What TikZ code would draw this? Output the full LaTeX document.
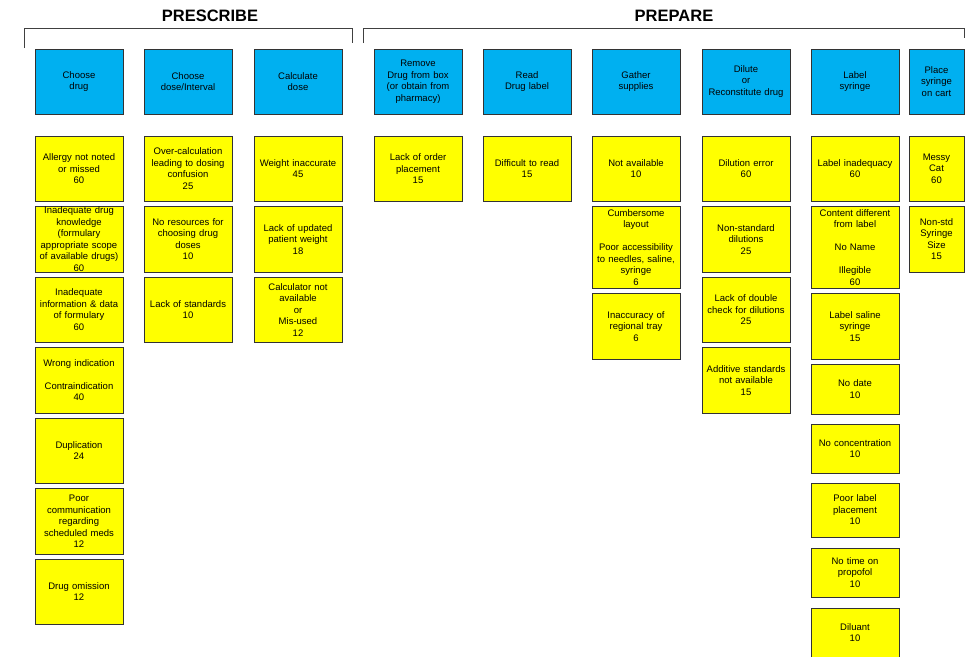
\documentclass[tikz,border=0pt]{standalone}
\usepackage{fontspec}
\setmainfont{Liberation Sans}
\usetikzlibrary{positioning}
\definecolor{stageblue}{HTML}{00B0F0}
\definecolor{causeyellow}{HTML}{FFFF00}
\tikzset{
  box/.style={draw=black!80,line width=1pt,outer sep=0pt,inner sep=0pt,align=center,
    text width=88pt,font=\fontsize{9.5}{11.5}\selectfont},
  stage/.style={box,fill=stageblue,minimum height=65pt},
  cause/.style={box,fill=causeyellow,minimum height=65.5pt},
  phase/.style={font=\fontsize{16.5}{18}\selectfont\bfseries},
  bracket/.style={draw=black!75,line width=0.9pt}
}
\begin{document}
\begin{tikzpicture}[x=1pt,y=1pt]
  \useasboundingbox (0,0) rectangle (976,-656);
  % phase headings and brackets
  \node[phase] (prescribe) at (210,-16) {PRESCRIBE};
  \node[phase] (prepare) at (674,-16) {PREPARE};
  \draw[bracket] (24,-48) -- (24,-28) -- (352,-28) -- (352,-43);
  \draw[bracket] (363,-43) -- (363,-28) -- (964,-28) -- (964,-38);
  % process steps
  \node[stage,anchor=north west] (drug) at (35,-49) {Choose\\drug};
  \node[stage,right=21pt of drug] (dose) {Choose\\dose/Interval};
  \node[stage,right=22pt of dose] (calc) {Calculate\\dose};
  \node[stage,right=32pt of calc] (remove) {Remove\\Drug from box\\(or obtain from\\pharmacy)};
  \node[stage,right=21pt of remove] (read) {Read\\Drug label};
  \node[stage,right=21pt of read] (gather) {Gather\\supplies};
  \node[stage,right=22pt of gather] (dilute) {Dilute\\or\\Reconstitute drug};
  \node[stage,right=21pt of dilute] (label) {Label\\syringe};
  \node[stage,right=10pt of label,text width=55pt] (place) {Place\\syringe\\on cart};
  % failure modes under each step
  \node[cause,below=22pt of drug] (drug1) {Allergy not noted\\or missed\\60};
  \node[cause,below=5pt of drug1] (drug2) {Inadequate drug\\knowledge\\(formulary\\appropriate scope\\of available drugs)\\60};
  \node[cause,below=5pt of drug2] (drug3) {Inadequate\\information \& data\\of formulary\\60};
  \node[cause,below=5pt of drug3] (drug4) {Wrong indication\\[11.5pt]Contraindication\\40};
  \node[cause,below=5pt of drug4] (drug5) {Duplication\\24};
  \node[cause,below=5pt of drug5] (drug6) {Poor\\communication\\regarding\\scheduled meds\\12};
  \node[cause,below=5pt of drug6] (drug7) {Drug omission\\12};
  \node[cause,below=22pt of dose] (dose1) {Over-calculation\\leading to dosing\\confusion\\25};
  \node[cause,below=5pt of dose1] (dose2) {No resources for\\choosing drug\\doses\\10};
  \node[cause,below=5pt of dose2] (dose3) {Lack of standards\\10};
  \node[cause,below=22pt of calc] (calc1) {Weight inaccurate\\45};
  \node[cause,below=5pt of calc1] (calc2) {Lack of updated\\patient weight\\18};
  \node[cause,below=5pt of calc2] (calc3) {Calculator not\\available\\or\\Mis-used\\12};
  \node[cause,below=22pt of remove] (remove1) {Lack of order\\placement\\15};
  \node[cause,below=22pt of read] (read1) {Difficult to read\\15};
  \node[cause,below=22pt of gather] (gather1) {Not available\\10};
  \node[cause,below=5pt of gather1,minimum height=82pt] (gather2) {Cumbersome\\layout\\[11.5pt]Poor accessibility\\to needles, saline,\\syringe\\6};
  \node[cause,below=5pt of gather2] (gather3) {Inaccuracy of\\regional tray\\6};
  \node[cause,below=22pt of dilute] (dilute1) {Dilution error\\60};
  \node[cause,below=5pt of dilute1] (dilute2) {Non-standard\\dilutions\\25};
  \node[cause,below=5pt of dilute2] (dilute3) {Lack of double\\check for dilutions\\25};
  \node[cause,below=5pt of dilute3] (dilute4) {Additive standards\\not available\\15};
  \node[cause,below=22pt of label] (label1) {Label inadequacy\\60};
  \node[cause,below=5pt of label1,minimum height=82pt] (label2) {Content different\\from label\\[11.5pt]No Name\\[11.5pt]Illegible\\60};
  \node[cause,below=5pt of label2] (label3) {Label saline\\syringe\\15};
  \node[cause,below=5pt of label3,minimum height=50pt] (label4) {No date\\10};
  \node[cause,below=10pt of label4,minimum height=49pt] (label5) {No concentration\\10};
  \node[cause,below=10pt of label5,minimum height=54pt] (label6) {Poor label\\placement\\10};
  \node[cause,below=11pt of label6,minimum height=49pt] (label7) {No time on\\propofol\\10};
  \node[cause,below=11pt of label7,minimum height=49pt] (label8) {Diluant\\10};
  \node[cause,below=22pt of place,text width=55pt] (place1) {Messy\\Cat\\60};
  \node[cause,below=5pt of place1,text width=55pt] (place2) {Non-std\\Syringe\\Size\\15};
\end{tikzpicture}
\end{document}
